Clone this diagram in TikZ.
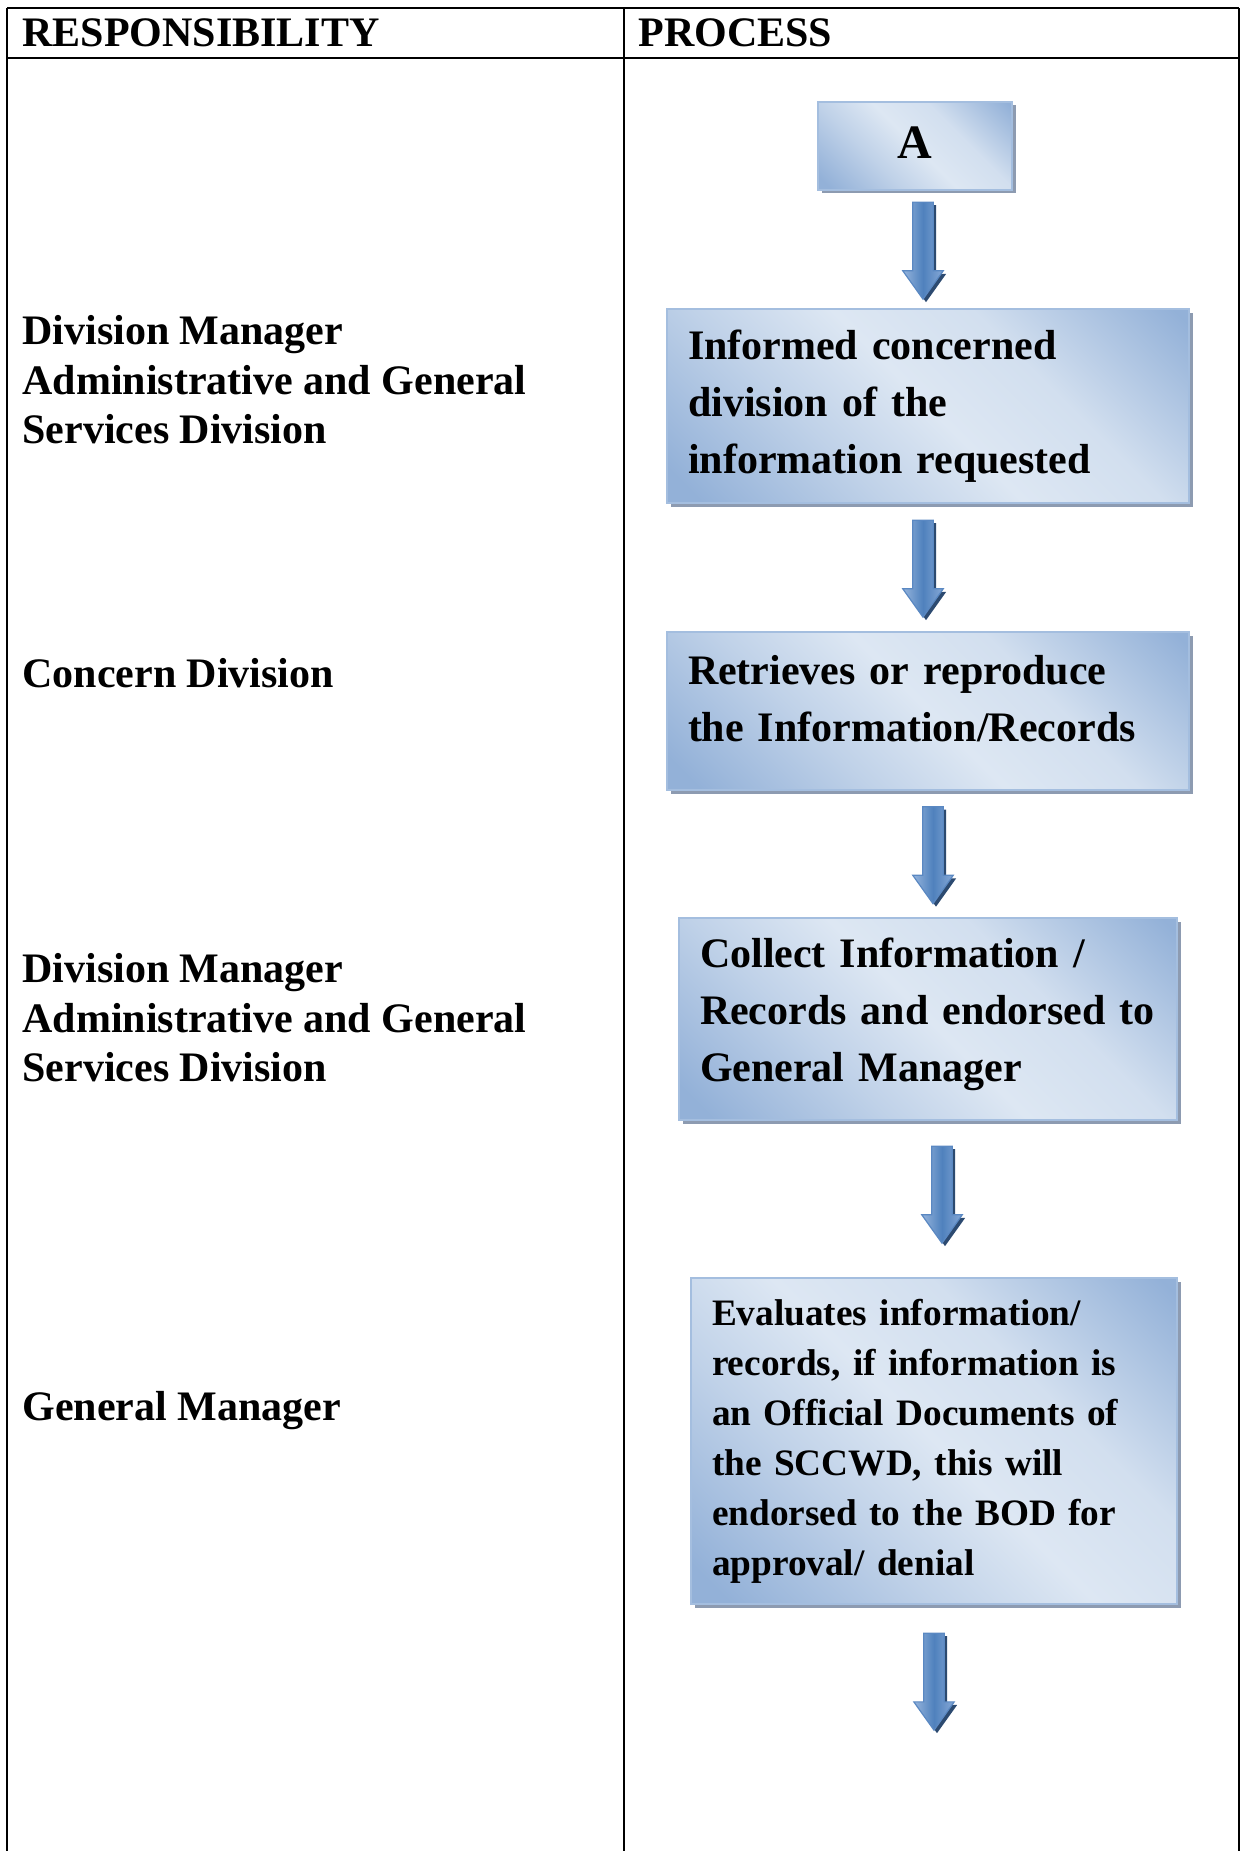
\documentclass[tikz,border=0pt]{standalone}
\usepackage{fontspec}
\setmainfont{Liberation Serif}
\usepackage{tikz}
\usetikzlibrary{shapes.arrows,shadows,positioning}
\definecolor{boxlight}{HTML}{DDE7F3}
\definecolor{boxdark}{HTML}{93B1D8}
\definecolor{boxedge}{HTML}{A4BEDF}
\definecolor{boxshadow}{HTML}{8D9BB1}
\definecolor{arrtop}{HTML}{95B4DC}
\definecolor{arrmid}{HTML}{4F81BD}
\definecolor{arrhead}{HTML}{86A8D6}
\definecolor{arredge}{HTML}{5A88C2}
\definecolor{arrshadow}{HTML}{2C4A70}
\pgfdeclareverticalshading{procshade}{100bp}{color(0bp)=(boxdark); color(18bp)=(boxdark); color(36bp)=(boxlight!60!boxdark); color(50bp)=(boxlight); color(64bp)=(boxlight!85!boxdark); color(84bp)=(boxdark); color(100bp)=(boxdark)}
\tikzstyle{tabline}=[line width=1pt,black]
\tikzstyle{head}=[inner sep=0pt,font=\bfseries\fontsize{21}{25}\selectfont]
\tikzstyle{resp}=[anchor=west,align=left,inner sep=0pt,font=\bfseries\fontsize{21}{24.8}\selectfont]
\tikzstyle{procbox}=[rectangle,draw=boxedge,line width=1pt,shading=procshade,shading angle=-45,drop shadow={shadow xshift=1.75pt,shadow yshift=-1.75pt,fill=boxshadow,opacity=1},inner xsep=10.5pt,inner ysep=0pt,align=left,font=\bfseries\fontsize{21}{28.5}\selectfont]
\tikzstyle{flow}=[single arrow,rotate=-90,draw=arredge,line width=0.6pt,left color=arrtop,right color=arrhead,middle color=arrmid,minimum height=48.5pt,minimum width=20pt,single arrow head extend=5pt,single arrow tip angle=71,inner xsep=0pt,inner ysep=4.8pt,drop shadow={shadow xshift=1.5pt,shadow yshift=-1.5pt,fill=arrshadow,opacity=1}]

\begin{document}
\begin{tikzpicture}[x=0.5pt,y=-0.5pt]
  \useasboundingbox (0,0) rectangle (1240,1851);

  % Tabelle
  \draw[tabline] (7,8) -- (1239,8);
  \draw[tabline] (7,58) -- (1239,58);
  \draw[tabline] (7,8) -- (7,1851);
  \draw[tabline] (624,8) -- (624,1851);
  \draw[tabline] (1239,8) -- (1239,1851);
  \node[head,anchor=base west] (resphead) at (22,47) {RESPONSIBILITY};
  \node[head,anchor=base west] (prochead) at (638,47) {PROCESS};

  % Zustaendigkeit
  \node[resp] (who1) at (22,380) {Division Manager\\Administrative and General\\Services Division};
  \node[resp] (who2) at (22,673) {Concern Division};
  \node[resp] (who3) at (22,1018) {Division Manager\\Administrative and General\\Services Division};
  \node[resp] (who4) at (22,1411) {General Manager};

  % Ablauf
  \node[procbox,align=center,minimum width=97pt,minimum height=44pt,font=\bfseries\fontsize{24}{28}\selectfont] (start) at (915,146) {A\rule[-3pt]{0pt}{3pt}};
  \node[procbox,text width=240pt,minimum height=97pt] (inform) at (928,406) {Informed concerned\\division of the\\information requested};
  \node[procbox,text width=240pt,minimum height=79pt] (retrieve) at (928,711) {Retrieves or reproduce\\the Information/Records\rule[-13pt]{0pt}{13pt}};
  \node[procbox,text width=228pt,minimum height=101pt] (collect) at (928,1019) {Collect Information /\\Records and endorsed to\\General Manager\rule[-9pt]{0pt}{9pt}};
  \node[procbox,text width=222pt,minimum height=163pt,font=\bfseries\fontsize{18.65}{25}\selectfont] (evaluate) at (934,1441) {Evaluates information/\\records, if information is\\an Official Documents of\\the SCCWD, this will\\endorsed to the BOD for\\approval/ denial};
  \coordinate (finish) at (934,1756);

  % Pfeile
  \path (start.south) -- node[xshift=0.75pt,yshift=3pt,flow] {} (inform.north);
  \path (inform.south) -- node[xshift=-2.5pt,yshift=3pt,flow] {} (retrieve.north);
  \path (retrieve.south) -- node[xshift=2.5pt,yshift=3pt,flow] {} (collect.north);
  \path (collect.south) -- node[xshift=5.5pt,yshift=5.75pt,flow] {} (evaluate.north);
  \path (evaluate.south) -- node[yshift=3pt,flow] {} (finish);

\end{tikzpicture}
\end{document}
